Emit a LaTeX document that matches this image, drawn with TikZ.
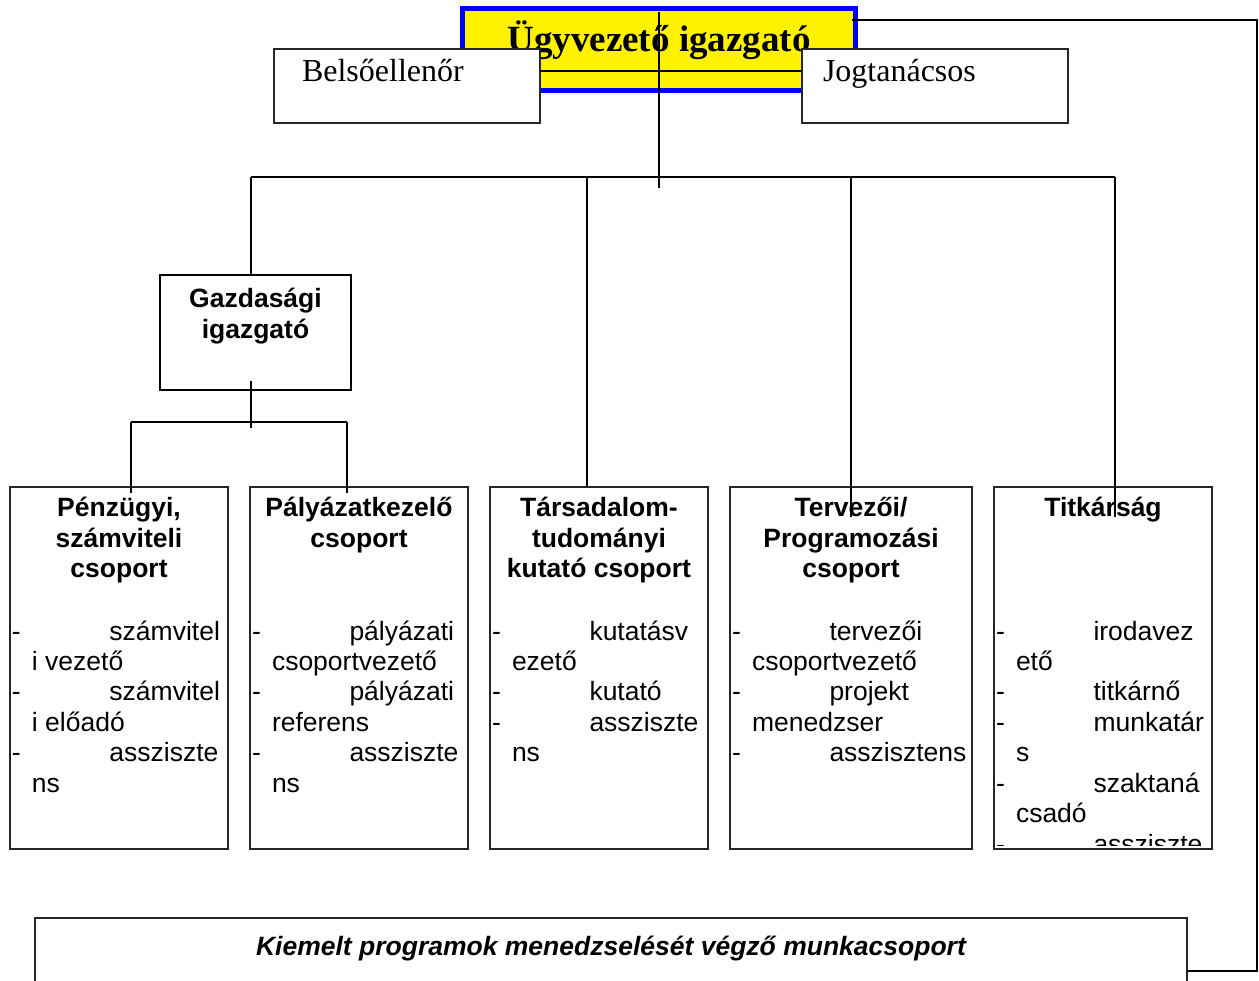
\documentclass[tikz,border=0pt]{standalone}
\usepackage{fontspec}
\setmainfont{Liberation Serif}
\setsansfont{Liberation Sans}
\usetikzlibrary{positioning}

\newcommand{\ceofont}{\fontsize{37}{42}\selectfont\bfseries}
\newcommand{\stafffont}{\fontsize{32}{36}\selectfont}
\newcommand{\unitfont}{\sffamily\fontsize{26.5}{31}\selectfont\bfseries}
\newcommand{\dutyfont}{\sffamily\fontsize{26.5}{30.45}\selectfont}
\newcommand{\programfont}{\sffamily\fontsize{26.5}{31}\selectfont\bfseries\itshape}
\newcommand{\orgdash}[1]{\makebox[97.5pt][l]{-}#1}
\newcommand{\orgcont}[1]{\hspace*{20pt}#1}
\newcommand{\unittitle}[2]{\parbox[t]{#1}{\centering #2}}
\newcommand{\dutylist}[1]{\parbox[t]{240pt}{\raggedright #1}}

\tikzset{
    org_line/.style={
        draw=black,
        line width=1.8pt
    },
    org_ceo/.style={
        rectangle,
        draw=blue,
        fill=yellow,
        line width=5pt,
        minimum width=393pt,
        minimum height=82pt,
        inner sep=0pt,
        outer sep=0pt
    },
    org_staff/.style={
        rectangle,
        draw=black!85,
        fill=white,
        line width=1.2pt,
        minimum width=266pt,
        minimum height=74pt,
        inner sep=0pt,
        outer sep=0pt
    },
    org_director/.style={
        rectangle,
        draw=black,
        fill=white,
        line width=2.5pt,
        minimum width=191pt,
        minimum height=115pt,
        inner sep=0pt,
        outer sep=0pt
    },
    org_unit/.style={
        rectangle,
        draw=black!85,
        fill=white,
        line width=1.2pt,
        minimum width=218pt,
        minimum height=362pt,
        inner sep=0pt,
        outer sep=0pt
    },
    org_program/.style={
        rectangle,
        draw=black!85,
        fill=white,
        line width=1.2pt,
        minimum width=1152pt,
        minimum height=120pt,
        inner sep=0pt,
        outer sep=0pt
    },
    org_label/.style={
        inner sep=0pt,
        outer sep=0pt,
        anchor=base
    },
    org_duties/.style={
        inner sep=0pt,
        outer sep=0pt,
        anchor=base west,
        font=\dutyfont
    }
}

\begin{document}
\begin{tikzpicture}[x=1pt, y=-1pt]
\fill[white] (0,0) rectangle (1259,981);
\useasboundingbox (0,0) rectangle (1259,981);

% --- Coordinates of the buses ---
\coordinate (ceoTail) at (659,188);
\coordinate (busL) at (251,177);
\coordinate (busR) at (1115,177);
\coordinate (subBusL) at (131,422);
\coordinate (subBusR) at (347,422);
\coordinate (subBusM) at (251,422);
\coordinate (edgeTop) at (1257,20);
\coordinate (edgeBot) at (1257,971);

% --- Top level ---
\node[org_ceo] (ceo) at (659,49.5) {};
\node[org_label, font=\ceofont] (ceoText) at ([yshift=-2.5]ceo.center) {Ügyvezető igazgató};
\draw[org_line] ([yshift=-3.5]ceo.north) -- (ceoTail);

\node[org_staff] (belso) at (407,86) {};
\node[org_label, anchor=base west, font=\stafffont] (belsoText) at ([xshift=28,yshift=-33]belso.north west) {Belsőellenőr};
\node[org_staff] (jog) at (935,86) {};
\node[org_label, anchor=base west, font=\stafffont] (jogText) at ([xshift=21,yshift=-33]jog.north west) {Jogtanácsos};
\draw[org_line, line width=1.4pt] ([yshift=15]belso.east) -- ([yshift=15]jog.west);

% --- Director ---
\node[org_director] (gazd) at (255.5,332.5) {};
\node[org_label, font=\unitfont] (gazdText) at ([yshift=-33]gazd.north) {\unittitle{185pt}{Gazdasági\\igazgató}};

% --- Units ---
\node[org_unit] (penz) at (119,668) {};
\node[org_unit, right=22pt of penz] (paly) {};
\node[org_unit, right=22pt of paly] (tars) {};
\node[org_unit, right=22pt of tars, minimum width=242pt] (terv) {};
\node[org_unit, right=22pt of terv] (titk) {};

\node[org_label, font=\unitfont] (penzTitle) at ([yshift=-29]penz.north) {\unittitle{210pt}{Pénzügyi,\\számviteli\\csoport}};
\node[org_label, font=\unitfont] (palyTitle) at ([yshift=-29]paly.north) {\unittitle{210pt}{Pályázatkezelő\\csoport}};
\node[org_label, font=\unitfont] (tarsTitle) at ([yshift=-29]tars.north) {\unittitle{210pt}{Társadalom-\\tudományi\\kutató csoport}};
\node[org_label, font=\unitfont] (tervTitle) at ([yshift=-29]terv.north) {\unittitle{234pt}{Tervezői/\\Programozási\\csoport}};
\node[org_label, font=\unitfont] (titkTitle) at ([yshift=-29]titk.north) {\unittitle{210pt}{Titkárság}};

\node[org_duties] (penzDuties) at ([xshift=2,yshift=-153]penz.north west) {\dutylist{\orgdash{számvitel}\\\orgcont{i vezető}\\\orgdash{számvitel}\\\orgcont{i előadó}\\\orgdash{assziszte}\\\orgcont{ns}}};
\node[org_duties] (palyDuties) at ([xshift=2,yshift=-153]paly.north west) {\dutylist{\orgdash{pályázati}\\\orgcont{csoportvezető}\\\orgdash{pályázati}\\\orgcont{referens}\\\orgdash{assziszte}\\\orgcont{ns}}};
\node[org_duties] (tarsDuties) at ([xshift=2,yshift=-153]tars.north west) {\dutylist{\orgdash{kutatásv}\\\orgcont{ezető}\\\orgdash{kutató}\\\orgdash{assziszte}\\\orgcont{ns}}};
\node[org_duties] (tervDuties) at ([xshift=2,yshift=-153]terv.north west) {\dutylist{\orgdash{tervezői}\\\orgcont{csoportvezető}\\\orgdash{projekt}\\\orgcont{menedzser}\\\orgdash{asszisztens}}};
\begin{scope}
    \clip (titk.north west) rectangle ([yshift=4]titk.south east);
    \node[org_duties] (titkDuties) at ([xshift=2,yshift=-153]titk.north west) {\dutylist{\orgdash{irodavez}\\\orgcont{ető}\\\orgdash{titkárnő}\\\orgdash{munkatár}\\\orgcont{s}\\\orgdash{szaktaná}\\\orgcont{csadó}\\\orgdash{assziszte}}};
\end{scope}

% --- Program group ---
\node[org_program] (kiemelt) at (611,978) {};
\node[org_label, font=\programfont] (kiemeltText) at ([yshift=-37.5]kiemelt.north) {Kiemelt programok menedzselését végző munkacsoport};

% --- Connectors ---
\draw[org_line] (busL) -- (busR);
\draw[org_line] (busL) -- ([xshift=-4.5]gazd.north);
\draw[org_line] ([xshift=-12]tars.north) -- ([xshift=-12]tars.north |- busL);
\draw[org_line] ([yshift=-30]terv.north) -- (terv.north |- busL);
\draw[org_line] ([xshift=12,yshift=-30]titk.north) -- (busR);

\draw[org_line] ([xshift=-4.5,yshift=9]gazd.south) -- ([yshift=-6]subBusM);
\draw[org_line] (subBusL) -- (subBusR);
\draw[org_line] (subBusL) -- ([xshift=12,yshift=-6]penz.north);
\draw[org_line] (subBusR) -- ([xshift=-12,yshift=-6]paly.north);

\draw[org_line] ([xshift=-4,yshift=29.5]ceo.east) -- (edgeTop) -- (edgeBot) -- (edgeBot -| kiemelt.east);

\end{tikzpicture}
\end{document}
